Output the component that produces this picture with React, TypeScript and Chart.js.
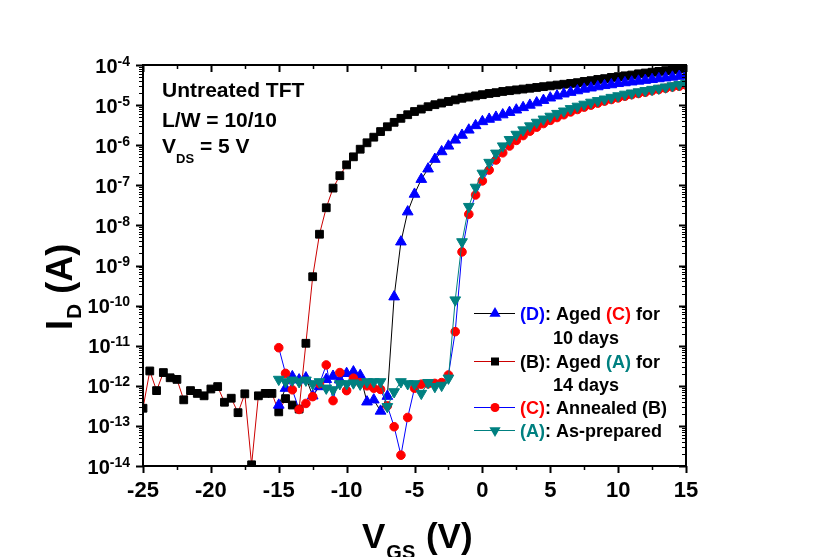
import React, { useEffect, useRef } from 'react';
import { Chart, registerables } from 'chart.js';

Chart.register(...registerables);

// Gate voltage (V)
const vgsLong = [
  -25, -24.5, -24, -23.5, -23, -22.5, -22, -21.5, -21, -20.5, -20, -19.5, -19, -18.5, -18, -17.5, -17, -16.5, -16, -15.5,
  -15, -14.5, -14, -13.5, -13, -12.5, -12, -11.5, -11, -10.5, -10, -9.5, -9, -8.5, -8, -7.5, -7, -6.5, -6, -5.5,
  -5, -4.5, -4, -3.5, -3, -2.5, -2, -1.5, -1, -0.5, 0, 0.5, 1, 1.5, 2, 2.5, 3, 3.5, 4, 4.5,
  5, 5.5, 6, 6.5, 7, 7.5, 8, 8.5, 9, 9.5, 10, 10.5, 11, 11.5, 12, 12.5, 13, 13.5, 14, 14.5, 15,
];
const vgsShort = [
  -15, -14.5, -14, -13.5, -13, -12.5, -12, -11.5, -11, -10.5, -10, -9.5, -9, -8.5, -8, -7.5, -7, -6.5, -6, -5.5,
  -5, -4.5, -4, -3.5, -3, -2.5, -2, -1.5, -1, -0.5, 0, 0.5, 1, 1.5, 2, 2.5, 3, 3.5, 4, 4.5,
  5, 5.5, 6, 6.5, 7, 7.5, 8, 8.5, 9, 9.5, 10, 10.5, 11, 11.5, 12, 12.5, 13, 13.5, 14, 14.5, 15,
];

// log10(I_D / A)
// (B): Aged (A) for 14 days  (black squares, -25..15 V)
const logIdB = [
  -12.56, -11.63, -12.12, -11.67, -11.80, -11.84, -12.35, -12.12, -12.19, -12.25, -12.08, -12.02, -12.41, -12.31, -12.67, -12.20, -13.97, -12.25, -12.19, -12.19,
  -12.65, -12.32, -12.48, -12.58, -10.94, -9.28, -8.22, -7.56, -7.07, -6.76, -6.49, -6.29, -6.10, -5.94, -5.80, -5.66, -5.54, -5.43, -5.33, -5.24,
  -5.16, -5.10, -5.04, -4.99, -4.95, -4.91, -4.87, -4.83, -4.80, -4.77, -4.74, -4.71, -4.69, -4.66, -4.64, -4.62, -4.60, -4.58, -4.56, -4.54,
  -4.52, -4.50, -4.48, -4.46, -4.44, -4.41, -4.39, -4.36, -4.34, -4.31, -4.29, -4.27, -4.25, -4.22, -4.20, -4.18, -4.16, -4.14, -4.12, -4.10, -4.08,
];
// (D): Aged (C) for 10 days  (blue triangles, -15..15 V)
const logIdD = [
  -12.48, -12.06, -11.77, -11.85, -11.80, -12.25, -12.02, -11.84, -11.76, -11.85, -11.69, -11.65, -11.74, -12.40, -12.35, -12.63, -12.26, -9.78, -8.41, -7.66,
  -7.22, -6.85, -6.59, -6.35, -6.16, -6.02, -5.87, -5.75, -5.62, -5.51, -5.41, -5.35, -5.30, -5.24, -5.18, -5.12, -5.06, -5.00, -4.94, -4.88,
  -4.82, -4.77, -4.72, -4.68, -4.64, -4.60, -4.57, -4.54, -4.51, -4.49, -4.46, -4.44, -4.42, -4.40, -4.38, -4.36, -4.34, -4.32, -4.30, -4.28, -4.26,
];
// (C): Annealed (B)  (red circles, -15..15 V)
const logIdC = [
  -11.05, -11.69, -12.10, -12.59, -12.44, -12.27, -11.95, -11.48, -12.37, -11.67, -12.12, -11.81, -11.92, -12.00, -12.06, -12.09, -12.50, -13.02, -13.73, -12.79,
  -12.06, -11.96, -11.95, -11.94, -11.92, -11.73, -10.65, -8.66, -7.72, -7.24, -6.89, -6.62, -6.37, -6.19, -6.02, -5.88, -5.76, -5.65, -5.55, -5.46,
  -5.38, -5.31, -5.24, -5.17, -5.11, -5.05, -5.00, -4.95, -4.90, -4.86, -4.82, -4.78, -4.74, -4.71, -4.68, -4.64, -4.61, -4.58, -4.55, -4.53, -4.50,
];
// (A): As-prepared  (teal down-triangles, -15..15 V)
const logIdA = [
  -11.84, -11.90, -11.86, -11.90, -11.86, -11.95, -11.90, -12.06, -12.10, -11.95, -11.95, -11.93, -11.96, -11.90, -11.90, -11.90, -12.52, -12.15, -11.90, -11.95,
  -11.95, -12.19, -11.92, -12.02, -11.99, -11.81, -9.86, -8.41, -7.53, -7.05, -6.70, -6.43, -6.20, -6.02, -5.86, -5.73, -5.62, -5.52, -5.43, -5.35,
  -5.28, -5.21, -5.15, -5.09, -5.03, -4.98, -4.93, -4.89, -4.85, -4.81, -4.77, -4.73, -4.70, -4.67, -4.64, -4.61, -4.58, -4.55, -4.52, -4.49, -4.46,
];

const xTickValues = [-25, -20, -15, -10, -5, 0, 5, 10, 15];
const xTickLabels = ['-25', '-20', '-15', '-10', '-5', '0', '5', '10', '15'];
const yTickExponents = [-4, -5, -6, -7, -8, -9, -10, -11, -12, -13, -14];
const yTickLabels = ['-4', '-5', '-6', '-7', '-8', '-9', '-10', '-11', '-12', '-13', '-14'];

const BLUE = '#0000ff';
const RED = '#ff0000';
const TEAL = '#008080';
const BLACK = '#000000';
const LINE_RED = '#cc0000';
const F = "'Liberation Sans', Arial, Helvetica, sans-serif";

type Part = [string, string];
const legendRows: { marker: string; mColor: string; line: string; parts: Part[]; cont?: string }[] = [
  { marker: 'triangle', mColor: BLUE, line: BLACK, parts: [['(D)', BLUE], [': Aged ', BLACK], ['(C)', RED], [' for', BLACK]], cont: '10 days' },
  { marker: 'rect', mColor: BLACK, line: LINE_RED, parts: [['(B)', BLACK], [': Aged ', BLACK], ['(A)', TEAL], [' for', BLACK]], cont: '14 days' },
  { marker: 'circle', mColor: RED, line: BLUE, parts: [['(C)', RED], [': Annealed (B)', BLACK]] },
  { marker: 'down', mColor: TEAL, line: TEAL, parts: [['(A)', TEAL], [': As-prepared', BLACK]] },
];

function toPoints(xs: number[], logs: number[]) {
  return xs.map((x, i) => ({ x, y: Math.pow(10, logs[i]) }));
}

function drawMarker(ctx: CanvasRenderingContext2D, kind: string, x: number, y: number, color: string) {
  ctx.fillStyle = color;
  ctx.beginPath();
  if (kind === 'triangle') {
    const r = 6.5;
    ctx.moveTo(x, y - r);
    ctx.lineTo(x + r * 0.866, y + r * 0.5);
    ctx.lineTo(x - r * 0.866, y + r * 0.5);
  } else if (kind === 'down') {
    const r = 6.5;
    ctx.moveTo(x, y + r);
    ctx.lineTo(x + r * 0.866, y - r * 0.5);
    ctx.lineTo(x - r * 0.866, y - r * 0.5);
  } else if (kind === 'rect') {
    ctx.rect(x - 4, y - 4, 8, 8);
  } else {
    ctx.arc(x, y, 4.5, 0, Math.PI * 2);
  }
  ctx.closePath();
  ctx.fill();
}

function drawRuns(ctx: CanvasRenderingContext2D, x: number, y: number, parts: Part[], size: number) {
  let cx = x;
  ctx.font = `bold ${size}px ${F}`;
  ctx.textAlign = 'left';
  ctx.textBaseline = 'alphabetic';
  for (const [t, c] of parts) {
    ctx.fillStyle = c;
    ctx.fillText(t, cx, y);
    cx += ctx.measureText(t).width;
  }
  return cx;
}

const decor = {
  id: 'decor',
  afterDatasetsDraw(chart: any) {
    const { ctx, chartArea: a, scales } = chart;
    const xs = scales.x;
    const ys = scales.y;
    ctx.save();

    // frame
    ctx.strokeStyle = '#000';
    ctx.lineWidth = 2;
    ctx.strokeRect(a.left, a.top, a.right - a.left, a.bottom - a.top);

    // x ticks (major 5 V, minor 2.5 V)
    for (let v = -25; v <= 15; v += 2.5) {
      const px = Math.round(xs.getPixelForValue(v)) + 0.5;
      const major = v % 5 === 0;
      const len = major ? 7 : 4;
      ctx.lineWidth = major ? 2 : 1.5;
      ctx.beginPath();
      ctx.moveTo(px, a.bottom);
      ctx.lineTo(px, a.bottom + len);
      ctx.moveTo(px, a.top);
      ctx.lineTo(px, a.top + len);
      ctx.stroke();
    }
    // y ticks (log)
    for (let e = -14; e <= -4; e++) {
      for (let m = 1; m <= 9; m++) {
        const val = m * Math.pow(10, e);
        if (val > 1.0001e-4) continue;
        const py = Math.round(ys.getPixelForValue(val)) + 0.5;
        const major = m === 1;
        const len = major ? 7 : 4;
        ctx.lineWidth = major ? 2 : 1;
        ctx.beginPath();
        ctx.moveTo(a.left, py);
        ctx.lineTo(a.left - len, py);
        ctx.moveTo(a.right, py);
        ctx.lineTo(a.right - len, py);
        ctx.stroke();
      }
    }

    // x tick labels
    ctx.fillStyle = '#000';
    ctx.font = `bold 22px ${F}`;
    ctx.textAlign = 'center';
    ctx.textBaseline = 'alphabetic';
    xTickValues.forEach((v, i) => {
      ctx.fillText(xTickLabels[i], xs.getPixelForValue(v), 497);
    });

    // y tick labels 10^n
    yTickExponents.forEach((e, i) => {
      const py = ys.getPixelForValue(Math.pow(10, e));
      ctx.font = `bold 14px ${F}`;
      const we = ctx.measureText(yTickLabels[i]).width;
      ctx.font = `bold 20px ${F}`;
      const wm = ctx.measureText('10').width;
      const right = 130;
      ctx.textAlign = 'left';
      ctx.fillText('10', right - we - wm, py + 7.5);
      ctx.font = `bold 14px ${F}`;
      ctx.fillText(yTickLabels[i], right - we, py + 0.5);
    });

    // x axis title V_GS (V)
    let cx = drawRuns(ctx, 362, 548, [['V', '#000']], 35);
    cx = drawRuns(ctx, cx + 1, 559, [['GS', '#000']], 20);
    drawRuns(ctx, cx + 1, 548, [[' (V)', '#000']], 35);

    // y axis title I_D (A)
    ctx.save();
    ctx.translate(72, 330);
    ctx.rotate(-Math.PI / 2);
    let ty = drawRuns(ctx, 0, 0, [['I', '#000']], 36);
    ty = drawRuns(ctx, ty + 1, 9, [['D', '#000']], 21);
    drawRuns(ctx, ty, 0, [[' (A)', '#000']], 36);
    ctx.restore();

    // annotation
    drawRuns(ctx, 162, 97, [['Untreated TFT', '#000']], 21);
    drawRuns(ctx, 162, 127, [['L/W = 10/10', '#000']], 21);
    let vx = drawRuns(ctx, 162, 153, [['V', '#000']], 21);
    vx = drawRuns(ctx, vx, 163, [['DS', '#000']], 13);
    drawRuns(ctx, vx, 153, [[' = 5 V', '#000']], 21);

    // legend
    const rowY = [313, 361, 407, 430];
    const contY = [337, 384];
    legendRows.forEach((row, i) => {
      const y = rowY[i];
      ctx.strokeStyle = row.line;
      ctx.lineWidth = 1;
      ctx.beginPath();
      ctx.moveTo(474, y + 0.5);
      ctx.lineTo(515, y + 0.5);
      ctx.stroke();
      drawMarker(ctx, row.marker, 495, y + 0.5, row.mColor);
      drawRuns(ctx, 520, y + 7, row.parts, 18);
      if (row.cont) {
        drawRuns(ctx, 553, contY[i] + 7, [[row.cont, '#000']], 18);
      }
    });

    ctx.restore();
  },
};

export default function App() {
  const ref = useRef<HTMLCanvasElement>(null);
  useEffect(() => {
    if (!ref.current) return;
    const common = { showLine: true, borderWidth: 1, pointBorderWidth: 1, pointHoverRadius: 6, clip: 0 };
    const chart = new Chart(ref.current, {
      type: 'scatter',
      data: {
        datasets: [
          {
            ...common,
            label: '(A): As-prepared',
            data: toPoints(vgsShort, logIdA),
            borderColor: TEAL,
            pointStyle: 'triangle',
            pointRotation: 180,
            pointRadius: 6.2,
            pointBackgroundColor: TEAL,
            pointBorderColor: TEAL,
            order: 0,
          },
          {
            ...common,
            label: '(C): Annealed (B)',
            data: toPoints(vgsShort, logIdC),
            borderColor: BLUE,
            pointStyle: 'circle',
            pointRadius: 4.3,
            pointBackgroundColor: RED,
            pointBorderColor: RED,
            order: 1,
          },
          {
            ...common,
            label: '(D): Aged (C) for 10 days',
            data: toPoints(vgsShort, logIdD),
            borderColor: BLACK,
            pointStyle: 'triangle',
            pointRadius: 6.2,
            pointBackgroundColor: BLUE,
            pointBorderColor: BLUE,
            order: 2,
          },
          {
            ...common,
            label: '(B): Aged (A) for 14 days',
            data: toPoints(vgsLong, logIdB),
            borderColor: LINE_RED,
            pointStyle: 'rect',
            pointRadius: 5.5,
            pointBackgroundColor: BLACK,
            pointBorderColor: BLACK,
            order: 3,
          },
        ],
      },
      options: {
        responsive: false,
        animation: false,
        layout: { padding: { left: 143, top: 65, right: 133, bottom: 91 } },
        scales: {
          x: { type: 'linear', min: -25, max: 15, display: false },
          y: { type: 'logarithmic', min: 1e-14, max: 1e-4, display: false },
        },
        plugins: { legend: { display: false }, tooltip: { enabled: false } },
      },
      plugins: [decor],
    } as any);
    return () => chart.destroy();
  }, []);
  return (
    <div style={{ position: 'absolute', left: 0, top: 0, width: 819, height: 557, background: '#fff' }}>
      <canvas ref={ref} width={819} height={557} style={{ display: 'block' }} />
    </div>
  );
}
